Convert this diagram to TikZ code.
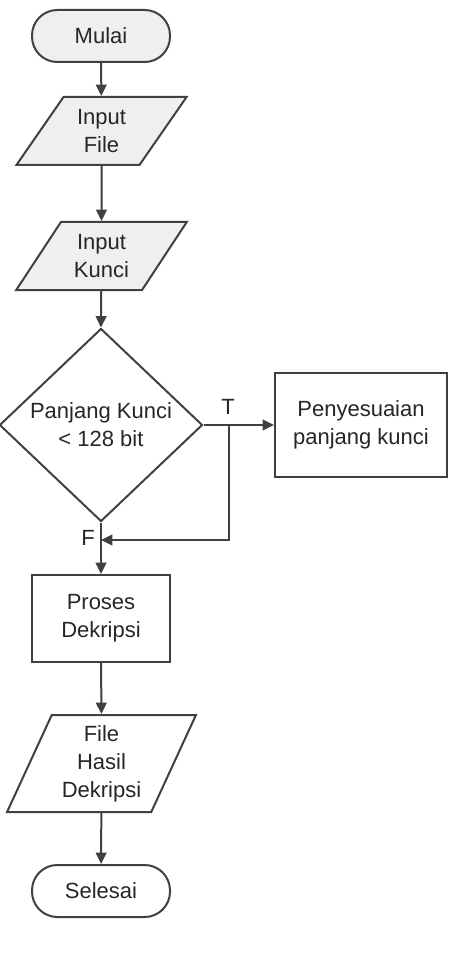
\documentclass[tikz,border=0pt]{standalone}
\usepackage{fontspec}
\setmainfont{Liberation Sans}
\usetikzlibrary{shapes.geometric,arrows.meta}
\definecolor{lineclr}{RGB}{64,64,64}
\definecolor{fillclr}{RGB}{239,239,239}
\definecolor{textclr}{RGB}{38,38,38}

\begin{document}
\begin{tikzpicture}[x=0.75pt,y=0.75pt,yscale=-1,xscale=1,
  font=\fontsize{16.5}{21}\selectfont,
  every node/.style={text=textclr, align=center},
  shp/.style={draw=lineclr, line width=1.5pt},
  term/.style={shp, rectangle, rounded corners=19pt, minimum width=103.5pt, minimum height=39pt},
  io/.style={shp, trapezium, trapezium stretches=true, inner sep=0pt},
  proc/.style={shp, rectangle},
  flow/.style={draw=lineclr, line width=1.5pt, -{Triangle[length=8.5pt,width=8pt]}}
]
\useasboundingbox (0,0) rectangle (451,962);

%Shape: Terminal [id:mulai]
\node[term, fill=fillclr] (mulai) at (101,36) {Mulai};
%Shape: Data [id:infile]
\node[io, fill=fillclr, trapezium left angle=55, trapezium right angle=125, minimum width=128.25pt, minimum height=51pt] (infile) at (101.5,131) {Input\\File};
%Shape: Data [id:inkunci]
\node[io, fill=fillclr, trapezium left angle=55, trapezium right angle=125, minimum width=128.25pt, minimum height=51pt] (inkunci) at (101.5,256) {Input\\Kunci};
%Shape: Decision [id:cek]
\node[shp, diamond, inner sep=0pt, minimum width=152.25pt, minimum height=144.75pt] (cek) at (101,425) {Panjang Kunci\\< 128 bit};
%Shape: Process [id:sesuai]
\node[proc, minimum width=129pt, minimum height=78pt] (sesuai) at (361,425) {Penyesuaian\\panjang kunci};
%Shape: Process [id:proses]
\node[proc, minimum width=103.5pt, minimum height=65.25pt] (proses) at (101,618.5) {Proses\\Dekripsi};
%Shape: Data [id:hasil]
\node[io, trapezium left angle=65, trapezium right angle=115, minimum width=141.75pt, minimum height=72.75pt] (hasil) at (101.5,763.5) {File\\Hasil\\Dekripsi};
%Shape: Terminal [id:selesai]
\node[term] (selesai) at (101,891) {Selesai};

%Straight Lines
\draw[flow] (mulai) -- (infile);
\draw[flow] (infile) -- (inkunci);
\draw[flow] (inkunci) -- (cek.north);
\draw[flow] (cek.east) -- (sesuai.west);
\draw[flow] (cek.south) -- (proses.north);
\draw[flow] (proses) -- (hasil);
\draw[flow] (hasil) -- (selesai);

%Branch back to main line
\coordinate (cabang) at (229,425);
\coordinate (belok) at (229,540);
\coordinate (gabung) at (101,540);
\draw[flow] (cabang) -- (belok) -- (gabung);

%Labels
\node (lblT) at (228,407) {T};
\node (lblF) at (88,538) {F};

\end{tikzpicture}
\end{document}
